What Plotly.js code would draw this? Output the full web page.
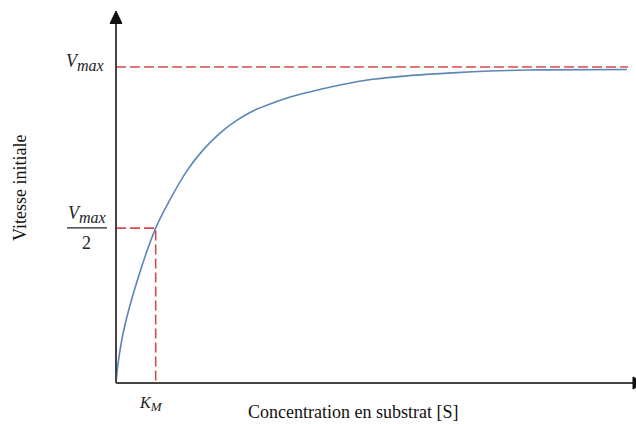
<!DOCTYPE html>
<html>
<head>
<meta charset="utf-8">
<script src="https://cdn.plot.ly/plotly-3.0.1.min.js"></script>
<style>html,body{margin:0;padding:0;background:#fff;}#chart{width:636px;height:424px;}</style>
</head>
<body>
<div id="chart"></div>
<script>
// Substrate concentration (in units of K_M) and initial velocity (in units of Vmax)
const substrate = [0, 0.05, 0.2, 0.55, 1, 1.36, 1.79, 2.19, 2.62, 3.05, 3.45, 3.88, 4.31, 4.71, 5.14, 5.64, 6.47, 7.33, 8.16, 8.99, 9.85, 10.68, 12.87];
const velocity  = [0, 0.06, 0.17, 0.33, 0.49, 0.58, 0.672, 0.737, 0.791, 0.832, 0.861, 0.883, 0.902, 0.916, 0.929, 0.943, 0.961, 0.972, 0.979, 0.985, 0.989, 0.991, 0.992];
const vmax = 1;
const halfVmax = 0.49;
const km = 1;
const vmaxLineX = [0, 12.9];
const labelVmax = "<i>V</i><sub><span style='font-size:16px'><i>max</i></span></sub>";
const labelKm = "<i>K</i><sub><span style='font-size:13px'><i>M</i></span></sub>";
const labelTwo = "2";
const xTitle = "Concentration en substrat [S]";
const yTitle = "Vitesse initiale";

const serif = "Liberation Serif, Times New Roman, serif";
const red = "#d64a4a";
const axisColor = "#444";

const traces = [
  {x: vmaxLineX, y: [vmax, vmax], mode: "lines", line: {color: red, width: 1.6, dash: "10px,4px"}, hoverinfo: "skip"},
  {x: [0, km, km], y: [halfVmax, halfVmax, 0], mode: "lines", line: {color: red, width: 1.6, dash: "10px,4px"}, hoverinfo: "skip"},
  {x: substrate, y: velocity, mode: "lines", line: {color: "#5b86b5", width: 1.6, shape: "spline", smoothing: 0.8}, hoverinfo: "skip"}
];

const txt = {family: serif, size: 18, color: "#222"};
function lab(x, y, text, font, extra) {
  return Object.assign({x: x, y: y, xref: "paper", yref: "paper", xanchor: "center", yanchor: "middle", showarrow: false, text: text, font: font}, extra || {});
}
const layout = {
  width: 636, height: 424,
  margin: {l: 116, r: 0, t: 12, b: 41},
  paper_bgcolor: "#fff", plot_bgcolor: "#fff",
  showlegend: false,
  xaxis: {range: [0, 13.1], visible: false, fixedrange: true},
  yaxis: {range: [0, 1.174], visible: false, fixedrange: true},
  annotations: [
    lab(-0.0596, 0.865, labelVmax, txt),
    lab(-0.0558, 0.455, labelVmax, txt),
    lab(-0.0558, 0.377, labelTwo, txt),
    lab(0.068, -0.057, labelKm, {family: serif, size: 16, color: "#222"}),
    lab(0.456, -0.078, xTitle, {family: serif, size: 18, color: "#111"}),
    lab(-0.1846, 0.5256, yTitle, {family: serif, size: 18, color: "#111"}, {textangle: -90})
  ],
  shapes: [
    // axes
    {type: "line", xref: "paper", yref: "paper", x0: 0, x1: 0, y0: 0, y1: 0.975, line: {color: axisColor, width: 2}},
    {type: "line", xref: "paper", yref: "paper", x0: 0, x1: 0.995, y0: 0, y1: 0, line: {color: axisColor, width: 2}},
    // arrowheads
    {type: "path", xref: "paper", yref: "paper", path: "M -0.0115 0.969 L 0 1.0027 L 0.0115 0.969 Z", fillcolor: "#111", line: {color: "#111", width: 1}},
    {type: "path", xref: "paper", yref: "paper", path: "M 0.9942 -0.0162 L 1.0173 0 L 0.9942 0.0162 Z", fillcolor: "#111", line: {color: "#111", width: 1}},
    // fraction bar
    {type: "line", xref: "paper", yref: "paper", x0: -0.0942, x1: -0.0173, y0: 0.418, y1: 0.418, line: {color: "#222", width: 1.3}}
  ]
};

Plotly.newPlot("chart", traces, layout, {staticPlot: true, displayModeBar: false});
</script>
</body>
</html>
